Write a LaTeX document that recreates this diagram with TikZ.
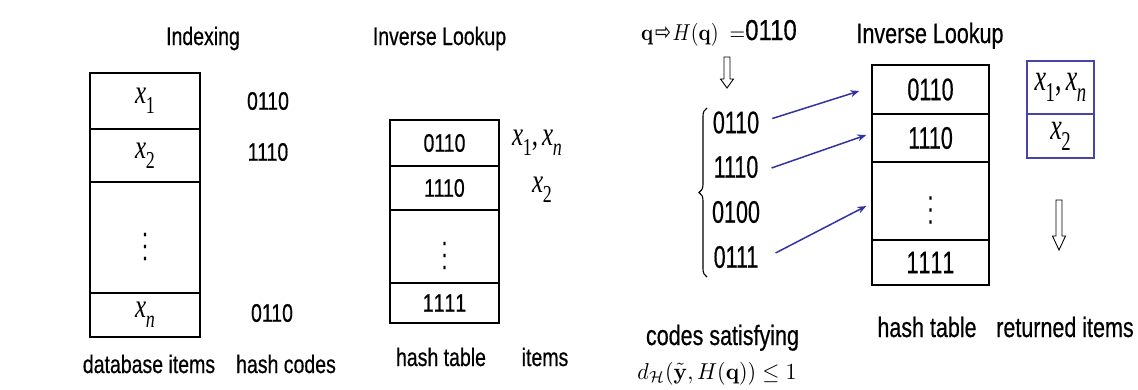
\documentclass[tikz,border=0pt]{standalone}
\usepackage[no-math]{fontspec}
\setmainfont{Liberation Sans}[FakeBold=0.6]
\newfontfamily\dejavu{DejaVu Sans}
\newfontfamily\tms{Liberation Serif}
\usepackage{graphicx}
\usetikzlibrary{arrows.meta,decorations.pathreplacing,calc}
\definecolor{boxblue}{RGB}{70,70,170}
\definecolor{arrblue}{RGB}{50,50,160}
\newcommand\T[3]{{\fontsize{#1}{#1}\selectfont\scalebox{1}[#2]{#3}}}
\newcommand\M[3]{{\fontsize{10}{12}\selectfont\scalebox{#1}[#2]{#3}}}
\newcommand\Ls[1]{\T{19.5}{1.3}{#1}}
\newcommand\Rs[1]{\T{21.5}{1.3}{#1}}
\newcommand\Rc[1]{\T{21.5}{1.45}{#1}}
\newcommand\xs[1]{{\tms\itshape x}\kern-0.5pt\raisebox{-0.3em}{\tms\fontsize{0.72em}{0.8em}\selectfont #1}}
\newcommand\Xc[1]{\T{25}{1.35}{#1}}
\newcommand\Xb[1]{\T{26}{1.45}{#1}}
\newcommand\Vd{\M{2.0}{3.0}{$\vdots$}}
\newcommand\harrow[4]{% x, ytop, yhead, ybottom
  \draw[hollow] ({#1-3},#2) -- ({#1+3},#2) -- ({#1+3},#3) -- ({#1+6.5},#3) -- (#1,#4)
    -- ({#1-6.5},#3) -- ({#1-3},#3) -- cycle;}
\begin{document}
\begin{tikzpicture}[x=1pt,y=-1pt,
  cell/.style={draw, line width=1.4pt, inner sep=0pt, anchor=center},
  bcell/.style={cell, draw=boxblue},
  lab/.style={inner sep=0pt, anchor=base},
  txt/.style={inner sep=0pt, anchor=center},
  link/.style={draw=arrblue, line width=1.5pt, -{Stealth[length=9pt,width=7pt]}},
  hollow/.style={draw=black, line width=0.9pt, fill=white, line join=miter}]
\useasboundingbox (0,0) rectangle (1138,389);

% ---------- Indexing ----------
\node[lab] (tIdx) at (203,45) {\Ls{Indexing}};
\node[cell, minimum width=110, minimum height=56]  (L1) at (145,101)   {\Xc{\xs{1}}};
\node[cell, minimum width=110, minimum height=53]  (L2) at (145,155.5) {\Xc{\xs{2}}};
\node[cell, minimum width=110, minimum height=111] (L3) at (145,237.5) {\Vd};
\node[cell, minimum width=110, minimum height=44]  (L4) at (145,315)   {\Xc{\xs{\itshape n}}};
\node[txt] (H1) at (268,101) {\Ls{0110}};
\node[txt] (H2) at (268,152) {\Ls{1110}};
\node[txt] (H3) at (272,313) {\Ls{0110}};
\node[lab] (tDb) at (149,373) {\Ls{database items}};
\node[lab] (tHc) at (286,373) {\Ls{hash codes}};

% ---------- Inverse Lookup (left) ----------
\node[lab] (tInv1) at (439.5,45) {\Ls{Inverse Lookup}};
\node[cell, minimum width=109, minimum height=46] (M1) at (444.5,143)   {\Ls{0110}};
\node[cell, minimum width=109, minimum height=44] (M2) at (444.5,188)   {\Ls{1110}};
\node[cell, minimum width=109, minimum height=73] (M3) at (444.5,246.5) {\Vd};
\node[cell, minimum width=109, minimum height=40] (M4) at (444.5,303)   {\Ls{1\kern0pt1\kern0pt1\kern0pt1}};
\node[txt] (I1) at (537,143) {\Xc{\xs{1}{\tms,}\,\xs{\itshape n}}};
\node[txt] (I2) at (542,190) {\Xc{\xs{2}}};
\node[lab] (tHt1) at (441,366) {\Ls{hash table}};
\node[lab] (tIt) at (545,366) {\Ls{items}};

% ---------- Query ----------
\node[lab] (tQ) at (719,40) {\M{2.0}{2.3}{$\mathbf{q}$}\,\T{19}{1.3}{\dejavu ⇨}\,\M{2.0}{2.3}{$H(\mathbf{q})\ =$}\T{24}{1.2}{0110}};
\harrow{727}{57}{79}{88}
\draw[decorate, decoration={brace, amplitude=8pt}, line width=1.1pt] (707,277) -- (707,108);
\node[txt] (C1) at (736,122.5) {\Rc{0110}};
\node[txt] (C2) at (736,167)   {\Rc{1110}};
\node[txt] (C3) at (736,212)   {\Rc{0100}};
\node[txt] (C4) at (736,257)   {\Rc{0111}};
\node[lab] (tCs) at (722.5,345) {\Rs{codes satisfying}};
\node[lab] (tF) at (717,379) {\M{2.2}{2.3}{$d_{\mathcal{H}}(\tilde{\mathbf{y}}, H(\mathbf{q})) \leq 1$}};

% ---------- Inverse Lookup (right) ----------
\node[lab] (tInv2) at (930,43) {\Rs{Inverse Lookup}};
\node[cell, minimum width=117, minimum height=49] (R1) at (930.5,89.5) {\Rc{0110}};
\node[cell, minimum width=117, minimum height=48] (R2) at (930.5,138)  {\Rc{1110}};
\node[cell, minimum width=117, minimum height=78] (R3) at (930.5,201)  {\Vd};
\node[cell, minimum width=117, minimum height=45] (R4) at (930.5,262.5){\Rc{1\kern0pt1\kern0pt1\kern0pt1}};
\node[lab] (tHt2) at (927,337) {\Rs{hash table}};

\draw[link] ($(C1.east)+(13,-4)$) -- ($(R1.west)+(-12,1.5)$);
\draw[link] ($(C2.east)+(13,1)$)  -- ($(R2.west)+(-5,-3)$);
\draw[link] ($(C4.east)+(17,-4)$) -- ($(R3.west)+(-5,5)$);

% ---------- returned items ----------
\node[bcell, minimum width=67, minimum height=53] (B1) at (1060.5,87.5) {\Xb{\xs{1}{\tms,}\,\xs{\itshape n}}};
\node[bcell, minimum width=67, minimum height=44] (B2) at (1060.5,136)  {\Xb{\xs{2}}};
\harrow{1059}{200}{236}{250}
\node[lab] (tRi) at (1065,337) {\Rs{returned items}};
\end{tikzpicture}
\end{document}
